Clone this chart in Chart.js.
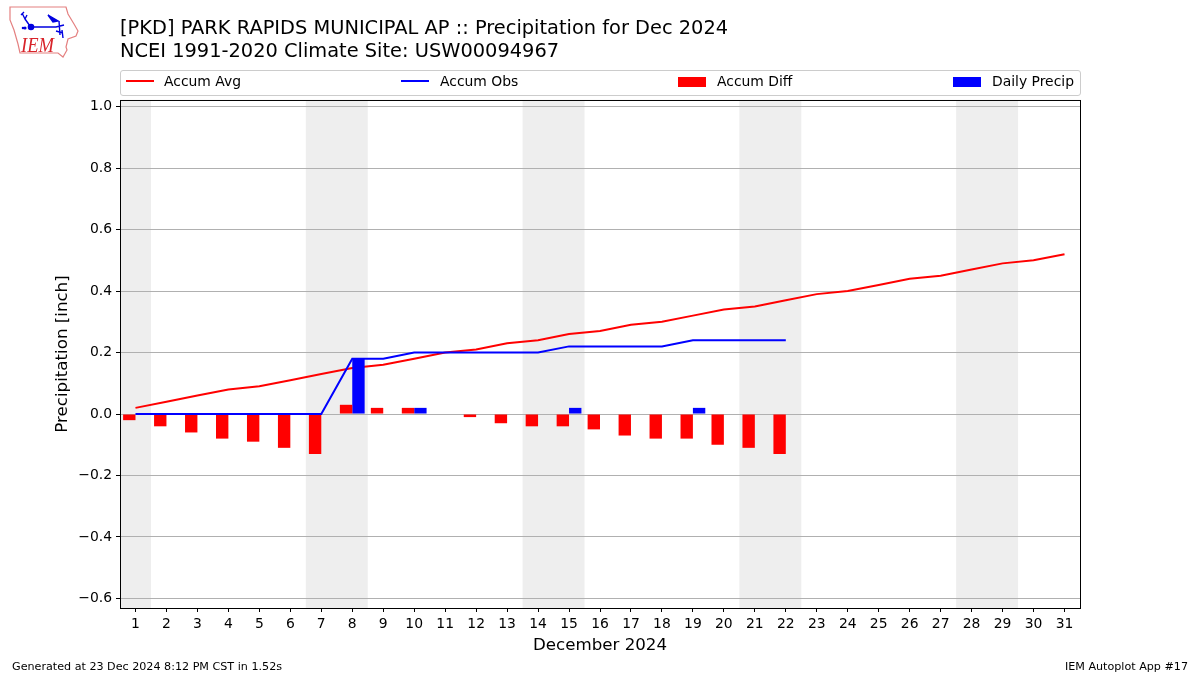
<!DOCTYPE html>
<html>
<head>
<meta charset="utf-8">
<title>Precipitation for Dec 2024</title>
<script src="https://cdn.jsdelivr.net/npm/chart.js@4/dist/chart.umd.min.js"></script>
<style>
  html, body { margin: 0; padding: 0; background: #fff; }
  body { width: 1200px; height: 675px; position: relative; overflow: hidden; font-family: "DejaVu Sans", sans-serif; color: #000; }
  canvas { position: absolute; left: 0; top: 0; }
  #logo { position: absolute; left: 0; top: 0; }
  #legend { position: absolute; left: 120px; top: 70px; width: 959px; height: 24px; border: 1px solid #ccc; border-radius: 3px; background: #fff; font-size: 13.9px; }
  #legend .item { position: absolute; top: 0; height: 24px; line-height: 20px; white-space: nowrap; }
  #legend .swatch { position: absolute; left: 0; width: 28px; }
  #legend .text { position: absolute; left: 38px; top: 0; }
  .foot { position: absolute; top: 660px; font-size: 11.15px; color: #000; white-space: nowrap; }
</style>
</head>
<body>
<canvas id="chart" width="1200" height="675"></canvas>
<svg id="logo" width="90" height="62" viewBox="0 0 90 62">
  <path d="M10 7 L66 7 L68 14 L74 24 L78 31 L76 36 L68 39 L66 47 L67 50 L63 57 L58 53 L20 53 L18 44 L14 30 L10 20 Z" fill="none" stroke="#e48080" stroke-width="1.2"/>
  <g stroke="#0000e0" stroke-width="1.4" fill="#0000e0">
    <path d="M31 27 L56 27 L64 25 M59 21 L60 35 M25 19 L30 26 M22 13 L25 19 L27 15 M21 15 L24 12" fill="none"/>
    <circle cx="31" cy="27" r="2.6"/>
    <path d="M48 15 L58 21 L53 22 Z"/>
    <path d="M56 31 L63 33 M62 30 L63 38" fill="none"/>
    <circle cx="25" cy="28" r="0.9"/>
    <circle cx="23" cy="28" r="0.6"/>
  </g>
  <text x="21" y="52" font-family="Liberation Serif" font-style="italic" font-size="20" textLength="33" lengthAdjust="spacingAndGlyphs" fill="#d8232a">IEM</text>
</svg>
<div id="legend"></div>
<div class="foot" style="left:12px">Generated at 23 Dec 2024 8:12 PM CST in 1.52s</div>
<div class="foot" style="right:12px">IEM Autoplot App #17</div>
<script>
const FONT = '"DejaVu Sans", sans-serif';

const days = ["1", "2", "3", "4", "5", "6", "7", "8", "9", "10", "11", "12", "13", "14", "15", "16",
  "17", "18", "19", "20", "21", "22", "23", "24", "25", "26", "27", "28", "29", "30", "31"];
const accumAvg = [0.02, 0.04, 0.06, 0.08, 0.09, 0.11, 0.13, 0.15, 0.16, 0.18, 0.20, 0.21, 0.23, 0.24, 0.26, 0.27,
  0.29, 0.30, 0.32, 0.34, 0.35, 0.37, 0.39, 0.40, 0.42, 0.44, 0.45, 0.47, 0.49, 0.50, 0.52];
const accumObs = [0, 0, 0, 0, 0, 0, 0, 0.18, 0.18, 0.20, 0.20, 0.20, 0.20, 0.20, 0.22, 0.22,
  0.22, 0.22, 0.24, 0.24, 0.24, 0.24];
const accumDiff = [-0.02, -0.04, -0.06, -0.08, -0.09, -0.11, -0.13, 0.03, 0.02, 0.02, 0, -0.01, -0.03, -0.04, -0.04, -0.05,
  -0.07, -0.08, -0.08, -0.10, -0.11, -0.13];
const dailyPrecip = [0, 0, 0, 0, 0, 0, 0, 0.18, 0, 0.02, 0, 0, 0, 0, 0.02, 0,
  0, 0, 0.02, 0, 0, 0];
const yTicks = [-0.6, -0.4, -0.2, 0, 0.2, 0.4, 0.6, 0.8, 1.0];
// first and last day of each weekend band
const weekends = [["1", "1"], ["7", "8"], ["14", "15"], ["21", "22"], ["28", "29"]];

// grey weekend bands, drawn under the grid
const weekendBands = {
  id: "weekendBands",
  beforeDraw(chart) {
    const { ctx, chartArea, scales } = chart;
    const half = (scales.x.getPixelForValue(1) - scales.x.getPixelForValue(0)) / 2;
    ctx.save();
    ctx.fillStyle = "#eeeeee";
    weekends.forEach(([from, to]) => {
      const x0 = scales.x.getPixelForValue(days.indexOf(from)) - half;
      const x1 = scales.x.getPixelForValue(days.indexOf(to)) + half;
      ctx.fillRect(x0, chartArea.top, x1 - x0, chartArea.height);
    });
    ctx.restore();
  },
};

// matplotlib style box round the plot
const frame = {
  id: "frame",
  afterDraw(chart) {
    const { ctx, chartArea } = chart;
    ctx.save();
    ctx.strokeStyle = "#000";
    ctx.lineWidth = 1;
    ctx.strokeRect(chartArea.left + 0.5, chartArea.top + 0.5, chartArea.width, chartArea.height);
    ctx.restore();
  },
};

const chart = new Chart(document.getElementById("chart"), {
  data: {
    labels: days,
    datasets: [
      // bars are grouped in order of "order", so Accum Diff must come before Daily Precip
      { type: "line", label: "Accum Avg", data: accumAvg, borderColor: "#ff0000", borderWidth: 2, pointRadius: 0, tension: 0, order: 4 },
      { type: "line", label: "Accum Obs", data: accumObs, borderColor: "#0000ff", borderWidth: 2, pointRadius: 0, tension: 0, order: 1 },
      { type: "bar", label: "Accum Diff", data: accumDiff, backgroundColor: "#ff0000", order: 2 },
      { type: "bar", label: "Daily Precip", data: dailyPrecip, backgroundColor: "#0000ff", order: 3 },
    ],
  },
  plugins: [weekendBands, frame],
  options: {
    responsive: false,
    animation: false,
    layout: { padding: { top: 18, right: 120, left: 0, bottom: 0 } },
    datasets: { bar: { categoryPercentage: 0.8, barPercentage: 1 } },
    plugins: {
      legend: { display: false },
      tooltip: { enabled: false },
      title: {
        display: true,
        fullSize: false,
        align: "start",
        text: ["[PKD] PARK RAPIDS MUNICIPAL AP :: Precipitation for Dec 2024", "NCEI 1991-2020 Climate Site: USW00094967"],
        color: "#000",
        font: { family: FONT, size: 19.4, weight: "normal", lineHeight: 1.18 },
        padding: { top: 0, bottom: 36.2 },
      },
    },
    scales: {
      x: {
        type: "category",
        offset: true,
        afterFit(scale) { scale.height = 67; },
        grid: { offset: false, drawOnChartArea: false, drawTicks: true, tickColor: "#000", tickLength: 4 },
        border: { display: false },
        ticks: { color: "#000", font: { family: FONT, size: 13.9 }, autoSkip: false, maxRotation: 0, padding: 4 },
        title: { display: true, text: "December 2024", color: "#000", font: { family: FONT, size: 16.67 }, padding: { top: 0, bottom: 19 } },
      },
      y: {
        type: "linear",
        min: -0.631,
        max: 1.0215,
        afterFit(scale) { scale.width = 120; },
        afterBuildTicks(scale) { scale.ticks = yTicks.map((value) => ({ value })); },
        grid: { color: "#b0b0b0", lineWidth: 1, tickColor: "#000", tickLength: 4, drawTicks: true },
        border: { display: false },
        ticks: {
          color: "#000",
          font: { family: FONT, size: 13.9 },
          padding: 4,
          callback: (value) => value.toFixed(1).replace("-", "\u2212"),
        },
        title: { display: true, text: "Precipitation [inch]", color: "#000", font: { family: FONT, size: 16.67 }, padding: { top: 53, bottom: 0 } },
      },
    },
  },
});

// legend spread over the plot width, from the chart's own datasets
const legendEl = document.getElementById("legend");
const legendLeft = [5, 280, 557, 832];
chart.data.datasets.forEach((ds, i) => {
  const color = ds.type === "line" ? ds.borderColor : ds.backgroundColor;
  const swatchStyle = ds.type === "line"
    ? `top:9px;height:2px;background:${color}`
    : `top:6px;height:10px;background:${color}`;
  const item = document.createElement("div");
  item.className = "item";
  item.style.left = legendLeft[i] + "px";
  item.innerHTML = `<span class="swatch" style="${swatchStyle}"></span><span class="text" style="left:${i ? 39 : 38}px">${ds.label}</span>`;
  legendEl.appendChild(item);
});
</script>
</body>
</html>
